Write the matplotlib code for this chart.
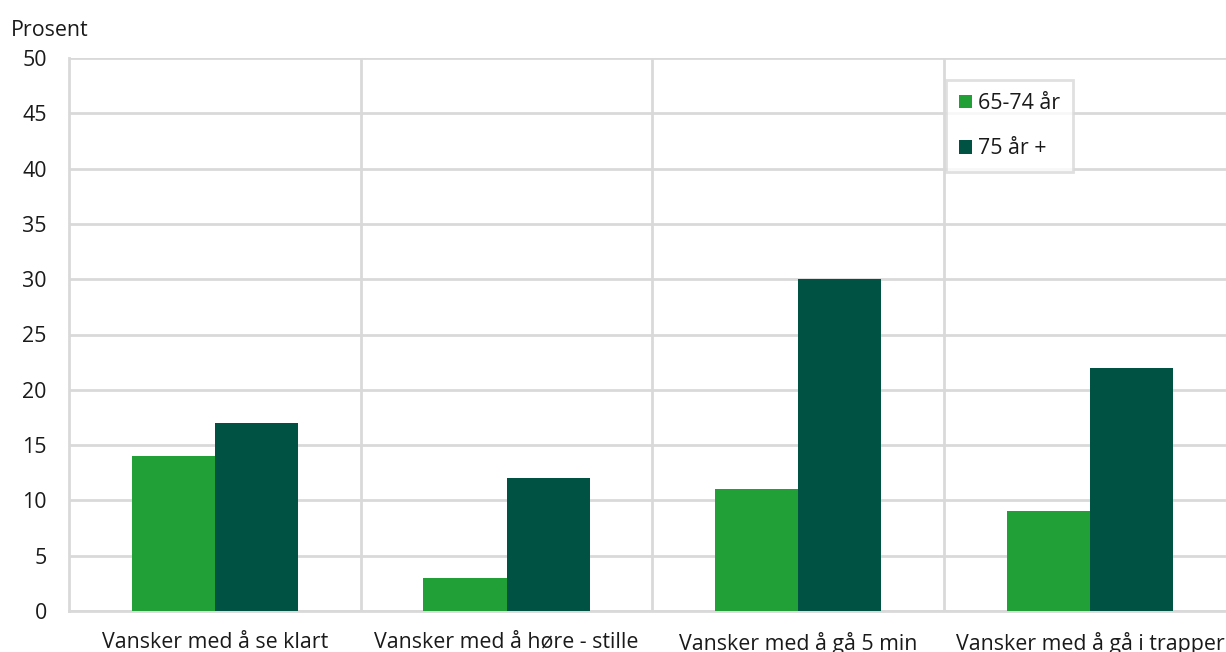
import matplotlib.pyplot as plt
import numpy as np

categories = ["Vansker med å se klart", "Vansker med å høre - stille",
              "Vansker med å gå 5 min", "Vansker med å gå i trapper"]
age_65_74 = [14, 3, 11, 9]
age_75_plus = [17, 12, 30, 22]
series_names = ["65-74 år", "75 år +"]
colors = ["#21a038", "#005243"]
grid_col = "#d9d9d9"
fs = 15.4

plt.rcParams["font.family"] = ["Open Sans", "DejaVu Sans"]

fig = plt.figure(figsize=(12.26, 6.52), dpi=100)
W, H = 1226, 652
ax = fig.add_axes([69 / W, 1 - 611 / H, (W - 69) / W, (611 - 58) / H])

x = np.arange(len(categories))
bw = 0.285
ax.bar(x - bw / 2, age_65_74, bw, color=colors[0], label=series_names[0], zorder=3)
ax.bar(x + bw / 2, age_75_plus, bw, color=colors[1], label=series_names[1], zorder=3)

ax.set_xlim(-0.5, -0.5 + (W - 69) / 291.7)
ax.set_ylim(0, 50)
ax.set_yticks(range(0, 51, 5))
ax.yaxis.grid(True, color=grid_col, linewidth=2)
for sep in np.arange(0.5, 3.5, 1.0):
    ax.axvline(sep, color=grid_col, linewidth=2, zorder=1)
ax.set_axisbelow(True)
for s in ["top", "right"]:
    ax.spines[s].set_visible(False)
ax.spines["left"].set_color(grid_col)
ax.spines["left"].set_linewidth(2)
ax.spines["bottom"].set_color(grid_col)
ax.spines["bottom"].set_linewidth(2)

ax.set_xticks(x)
ax.set_xticklabels(categories, fontsize=fs, color="#1a1a1a")
ax.tick_params(axis="both", length=0, labelsize=fs, colors="#1a1a1a")
ax.tick_params(axis="x", pad=15)
ax.tick_params(axis="y", pad=16)

fig.text(11 / W, 1 - 36 / H, "Prosent", fontsize=fs, color="#1a1a1a", va="baseline", ha="left")

leg = ax.legend(loc="upper left", bbox_to_anchor=((946 - 69) / (W - 69), 1 - (80 - 58) / (611 - 58)),
                frameon=True, fancybox=False, fontsize=fs, handlelength=0.6, handleheight=0.6,
                handletextpad=0.3, labelspacing=1.15, borderpad=0.6, borderaxespad=0)
leg.get_frame().set_edgecolor(grid_col)
leg.get_frame().set_linewidth(2)
for t in leg.get_texts():
    t.set_color("#1a1a1a")

fig.savefig("out.png", dpi=100)
